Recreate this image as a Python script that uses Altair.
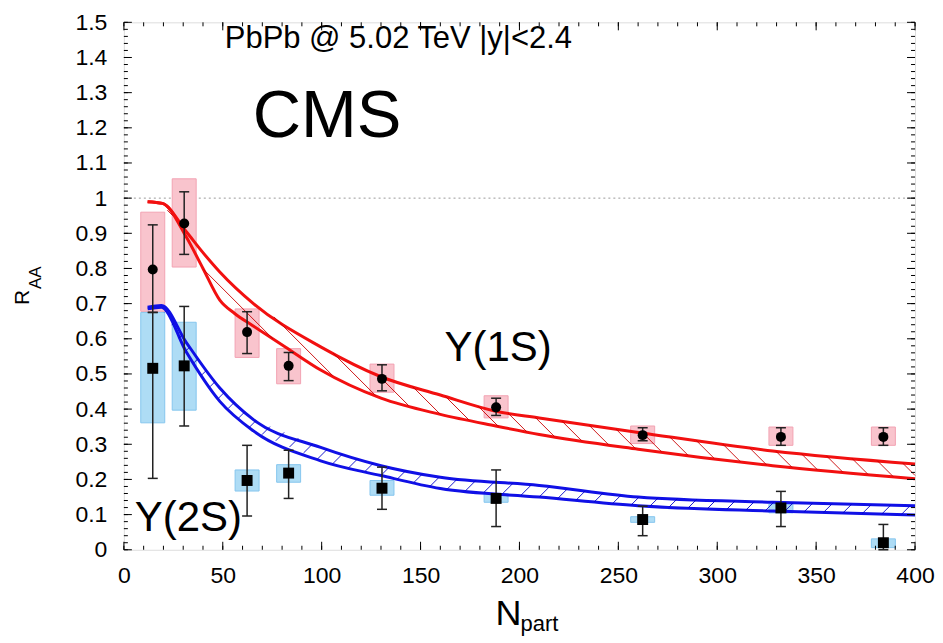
import altair as alt
import numpy as np
import pandas as pd

# ---------------- data ----------------
NPART = [14.6, 30.5, 62.3, 83.3, 130.5, 188.2, 262.3, 332.2, 384.0]

RAA_1S = [0.797, 0.928, 0.619, 0.523, 0.486, 0.405, 0.326, 0.321, 0.321]
ERR_LO_1S = [0.675, 0.840, 0.558, 0.481, 0.452, 0.382, 0.310, 0.297, 0.297]
ERR_HI_1S = [0.924, 1.018, 0.677, 0.561, 0.526, 0.431, 0.347, 0.347, 0.347]
SYS_LO_1S = [0.678, 0.804, 0.547, 0.472, 0.448, 0.375, 0.302, 0.297, 0.297]
SYS_HI_1S = [0.960, 1.055, 0.685, 0.572, 0.528, 0.438, 0.352, 0.349, 0.349]

RAA_2S = [0.516, 0.523, 0.197, 0.218, 0.175, 0.146, 0.086, 0.119, 0.020]
ERR_LO_2S = [0.203, 0.352, 0.096, 0.146, 0.115, 0.066, 0.040, 0.066, 0.000]
ERR_HI_2S = [0.675, 0.692, 0.297, 0.283, 0.235, 0.227, 0.124, 0.166, 0.072]
SYS_LO_2S = [0.361, 0.397, 0.167, 0.192, 0.155, 0.135, 0.078, 0.105, 0.006]
SYS_HI_2S = [0.675, 0.647, 0.227, 0.242, 0.197, 0.160, 0.094, 0.130, 0.031]

RED_UP_X = [12, 19.5, 31.5, 40, 48.5, 65.5, 99.5, 130, 160, 188, 210, 261, 328, 400]
RED_UP_Y = [0.99, 0.985, 0.905, 0.845, 0.79, 0.70, 0.577, 0.492, 0.44, 0.394, 0.375, 0.333, 0.281, 0.244]
RED_LO_X = [12, 19.5, 31.5, 40, 48.5, 56, 65, 82, 99.5, 130, 160, 188, 210, 260, 328, 400]
RED_LO_Y = [0.99, 0.985, 0.89, 0.80, 0.71, 0.672, 0.638, 0.575, 0.511, 0.431, 0.385, 0.352, 0.328, 0.286, 0.239, 0.202]

BLUE_X = [12, 19, 31.5, 48.5, 65.5, 99.5, 130, 160, 210, 260, 328, 400]
BLUE_UP_Y = [0.69, 0.695, 0.59, 0.46, 0.37, 0.291, 0.239, 0.206, 0.183, 0.15, 0.135, 0.125]
BLUE_LO_Y = [0.685, 0.69, 0.563, 0.422, 0.338, 0.253, 0.211, 0.174, 0.15, 0.125, 0.11, 0.099]

REF_LINE = [1.0]

X_MAJOR = [0, 50, 100, 150, 200, 250, 300, 350, 400]
X_MINOR = list(range(0, 401, 10))
Y_MAJOR = [round(0.1 * i, 1) for i in range(16)]
Y_MINOR = [round(0.02 * i, 2) for i in range(76)]

# ---------------- layout ----------------
W, H = 792, 528
FONT = "Liberation Sans"
xs = alt.Scale(domain=[0, 400], nice=False, zero=False)
ys = alt.Scale(domain=[0, 1.5], nice=False, zero=False)
AX_X = alt.Axis(values=X_MAJOR, ticks=False, domain=False, grid=False, title=None,
                labelPadding=15, labelFlush=False, format="d",
                labelFont=FONT, labelFontSize=23, labelColor="black")
AX_Y = alt.Axis(values=Y_MAJOR, ticks=False, domain=False, grid=False, title=None,
                labelPadding=17, labelFlush=False,
                labelExpr="format(datum.value, '.1~f')",
                labelFont=FONT, labelFontSize=23, labelColor="black")


def X(field, **kw):
    return alt.X(field, type="quantitative", scale=xs, axis=AX_X, **kw)


def Y(field, **kw):
    return alt.Y(field, type="quantitative", scale=ys, axis=AX_Y, **kw)


# ---------------- hatching (decoration of the model bands) ----------------
def hatch(xu, yu, xl, yl, step, slope, x_start):
    xx = np.linspace(x_start, 400, 6000)
    px = xx / 400 * W
    pu = (1.5 - np.interp(xx, xu, yu)) / 1.5 * H
    pl = (1.5 - np.interp(xx, xl, yl)) / 1.5 * H
    cu = pu - slope * px
    cl = pl - slope * px
    cmin = min(cu.min(), cl.min())
    cmax = max(cu.max(), cl.max())
    rows = []
    for c in np.arange(cmin + step / 2, cmax, step):
        line = slope * px + c
        inside = (line > pu) & (line < pl)
        idx = np.nonzero(inside)[0]
        if len(idx) == 0:
            continue
        runs = np.split(idx, np.nonzero(np.diff(idx) > 1)[0] + 1)
        for run in runs:
            if len(run) < 2:
                continue
            a, b = run[0], run[-1]
            rows.append(dict(hx=px[a] / W * 400, hy=1.5 - line[a] / H * 1.5,
                             hx2=px[b] / W * 400, hy2=1.5 - line[b] / H * 1.5))
    return pd.DataFrame(rows)


red_hatch = hatch(RED_UP_X, RED_UP_Y, RED_LO_X, RED_LO_Y, 23, 1.0, 20)
blue_hatch = hatch(BLUE_X, BLUE_UP_Y, BLUE_X, BLUE_LO_Y, 20, -1.0, 19)

# ---------------- tables ----------------
d1 = pd.DataFrame(dict(npart=NPART, raa=RAA_1S, elo=ERR_LO_1S, ehi=ERR_HI_1S,
                       slo=SYS_LO_1S, shi=SYS_HI_1S))
d2 = pd.DataFrame(dict(npart=NPART, raa=RAA_2S, elo=ERR_LO_2S, ehi=ERR_HI_2S,
                       slo=SYS_LO_2S, shi=SYS_HI_2S))

red_curves = pd.concat([
    pd.DataFrame(dict(cx=RED_UP_X, cy=RED_UP_Y, curve="up")),
    pd.DataFrame(dict(cx=RED_LO_X, cy=RED_LO_Y, curve="lo")),
])
blue_curves = pd.concat([
    pd.DataFrame(dict(cx=BLUE_X, cy=BLUE_UP_Y, curve="up")),
    pd.DataFrame(dict(cx=BLUE_X, cy=BLUE_LO_Y, curve="lo")),
])

# ---------------- layers ----------------
ref = alt.Chart(pd.DataFrame(dict(r=REF_LINE))).mark_rule(
    color="#9a9a9a", strokeWidth=1, strokeDash=[2, 3]).encode(y=Y("r"))

box1 = alt.Chart(d1).mark_rect(fill="#f9c4cd", stroke="#f2a3b3", strokeWidth=1,
                               xOffset=-12, x2Offset=12).encode(
    x=X("npart"), x2="npart", y=Y("slo"), y2="shi")
box2 = alt.Chart(d2).mark_rect(fill="#aedcf5", stroke="#86c6ee", strokeWidth=1,
                               xOffset=-12, x2Offset=12).encode(
    x=X("npart"), x2="npart", y=Y("slo"), y2="shi")

rc = alt.Chart(red_curves).mark_line(color="#f21010", strokeWidth=3,
                                     interpolate="monotone").encode(
    x=X("cx"), y=Y("cy"), detail="curve:N", order="cx:Q")
bc = alt.Chart(blue_curves).mark_line(color="#1010e6", strokeWidth=3,
                                      interpolate="monotone").encode(
    x=X("cx"), y=Y("cy"), detail="curve:N", order="cx:Q")

rh = alt.Chart(red_hatch).mark_rule(color="#c80000", strokeWidth=0.9).encode(
    x=X("hx"), y=Y("hy"), x2="hx2", y2="hy2")
bh = alt.Chart(blue_hatch).mark_rule(color="#0000c8", strokeWidth=0.9).encode(
    x=X("hx"), y=Y("hy"), x2="hx2", y2="hy2")


def errbars(df):
    bar = alt.Chart(df).mark_rule(color="#222222", strokeWidth=1.5).encode(
        x=X("npart"), y=Y("elo"), y2="ehi")
    cap_lo = alt.Chart(df).mark_rule(color="#222222", strokeWidth=1.5,
                                     xOffset=-5, x2Offset=5).encode(
        x=X("npart"), x2="npart", y=Y("elo"))
    cap_hi = alt.Chart(df).mark_rule(color="#222222", strokeWidth=1.5,
                                     xOffset=-5, x2Offset=5).encode(
        x=X("npart"), x2="npart", y=Y("ehi"))
    return bar + cap_lo + cap_hi


p1 = alt.Chart(d1).mark_point(shape="circle", filled=True, color="black",
                              size=100, opacity=1).encode(x=X("npart"), y=Y("raa"))
p2 = alt.Chart(d2).mark_point(shape="square", filled=True, color="black",
                              size=120, opacity=1).encode(x=X("npart"), y=Y("raa"))

xmaj = pd.DataFrame(dict(t=X_MAJOR))
xmin_ = pd.DataFrame(dict(t=X_MINOR))
ymaj = pd.DataFrame(dict(t=Y_MAJOR))
ymin_ = pd.DataFrame(dict(t=Y_MINOR))


def xticks(df, length):
    b = alt.Chart(df).mark_rule(color="black", strokeWidth=1).encode(
        x=X("t"), y=alt.value(H), y2=alt.value(H - length))
    t = alt.Chart(df).mark_rule(color="black", strokeWidth=1).encode(
        x=X("t"), y=alt.value(0), y2=alt.value(length))
    return b + t


def yticks(df, length):
    l = alt.Chart(df).mark_rule(color="black", strokeWidth=1).encode(
        y=Y("t"), x=alt.value(0), x2=alt.value(length))
    r = alt.Chart(df).mark_rule(color="black", strokeWidth=1).encode(
        y=Y("t"), x=alt.value(W), x2=alt.value(W - length))
    return l + r


def label(text, px, py, size, angle=0):
    return alt.Chart(alt.Data(values=[{"t": text}])).mark_text(
        font=FONT, fontSize=size, color="black", align="left",
        baseline="alphabetic", angle=angle).encode(
        x=alt.value(px), y=alt.value(py), text="t:N")


texts = (
    label("PbPb @ 5.02 TeV |y|<2.4", 101, 26, 31)
    + label("CMS", 129, 115, 67)
    + label("Y(1S)", 321, 339, 42)
    + label("Y(2S)", 11, 509, 42)
    + label("N", 372, 603, 36)
    + label("part", 397, 609, 22)
    + label("R", -95, 283, 21, 270)
    + label("AA", -83, 267, 17, 270)
)

chart = alt.layer(
    ref, box1, box2, rc, bc, rh, bh,
    errbars(d1), errbars(d2), p1, p2,
    xticks(xmin_, 4), xticks(xmaj, 8), yticks(ymin_, 4), yticks(ymaj, 8),
    texts,
).properties(
    width=W, height=H,
    autosize=alt.AutoSizeParams(type="none"),
    padding={"left": 116, "top": 14, "right": 20, "bottom": 92},
).configure_view(
    stroke="black", strokeWidth=1.5
).configure(background="white")

chart.save("out.html", embed_options={"renderer": "svg", "actions": False})
